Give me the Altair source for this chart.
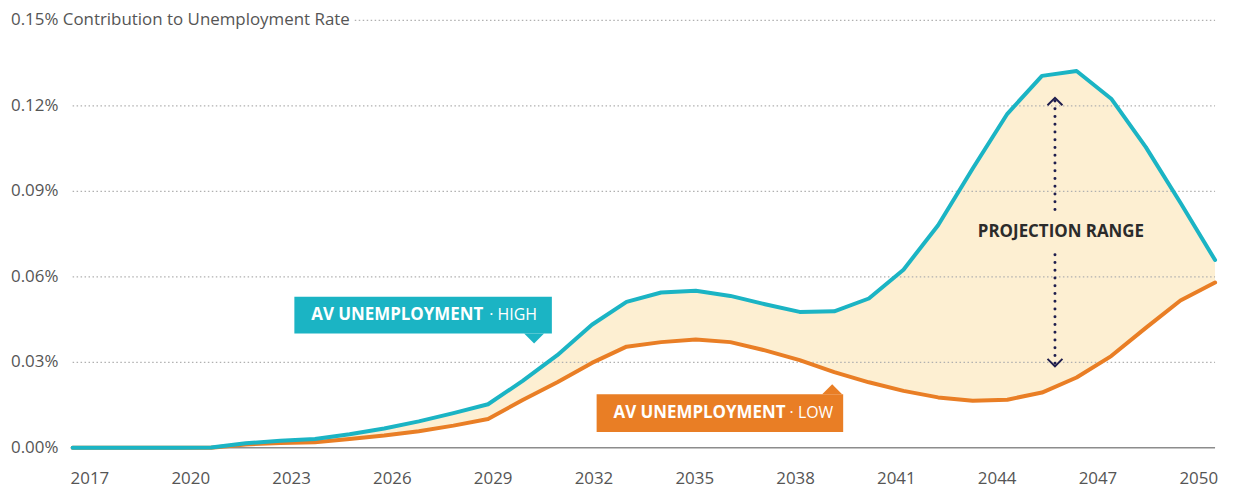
import altair as alt
import pandas as pd

# ---------------- data (values in percentage points) ----------------
years = list(range(2017, 2051))
high = [0, 0, 0, 0, 0.0001, 0.0016, 0.0025, 0.0031, 0.0048, 0.0068, 0.0093, 0.0122,
        0.0153, 0.0235, 0.0325, 0.0432, 0.0512, 0.0545, 0.0551, 0.0533, 0.0504, 0.0477,
        0.0479, 0.0524, 0.0625, 0.0781, 0.0980, 0.1172, 0.1305, 0.1322, 0.1225, 0.1055,
        0.0860, 0.0659]
low = [0, 0, 0, 0, 0, 0.0012, 0.0017, 0.0020, 0.0031, 0.0043, 0.0058, 0.0078,
       0.0101, 0.0168, 0.0230, 0.0298, 0.0355, 0.0371, 0.0380, 0.0371, 0.0342, 0.0308,
       0.0266, 0.0230, 0.0200, 0.0177, 0.0165, 0.0169, 0.0194, 0.0247, 0.0322, 0.0421,
       0.0517, 0.0580]
y_ticks = [0, 0.03, 0.06, 0.09, 0.12, 0.15]
y_labels = ["0.00%", "0.03%", "0.06%", "0.09%", "0.12%",
            "0.15% Contribution to Unemployment Rate"]
x_ticks = [2017, 2020, 2023, 2026, 2029, 2032, 2035, 2038, 2041, 2044, 2047, 2050]
grid_vals = [0.03, 0.06, 0.09, 0.12]
label_bold = ["AV UNEMPLOYMENT", "AV UNEMPLOYMENT"]
label_norm = ["· HIGH", "· LOW"]
range_label = "PROJECTION RANGE"

# ---------------- style ----------------
TEAL = "#1bb4c4"
ORANGE = "#e97e25"
FILL = "#fdefd2"
GRID = "#b0b0b0"
LABEL = "#555555"
NAVY = "#1e1d4d"
DARK = "#2b2b2b"
FONT = "Open Sans"

xs = alt.Scale(domain=[2017, 2050], nice=False, zero=False)
xs_axis = alt.Scale(domain=[2016.5, 2050.5], nice=False, zero=False)  # band-centred labels
ys = alt.Scale(domain=[0, 0.15], nice=False, zero=True)


def X(f):
    return alt.X(f, type="quantitative", scale=xs, axis=None)


def Y(f):
    return alt.Y(f, type="quantitative", scale=ys, axis=None)


df = pd.DataFrame({"year": years, "high": high, "low": low})

x_axis = alt.Axis(
    values=x_ticks, format="d", title=None, grid=False, ticks=False, domain=False,
    labelFont=FONT, labelFontSize=17, labelColor=LABEL, labelPadding=23,
    labelFlush=False, labelOverlap=False)

# ---------------- axis layer (year labels + baseline) ----------------
axis_layer = alt.Chart(pd.DataFrame({"x0": [2016.5], "x1": [2050.5], "v": [0.0]})).mark_rule(
    color="#8c8c8c", strokeWidth=1.5
).encode(
    x=alt.X("x0:Q", scale=xs_axis, axis=x_axis),
    x2="x1:Q",
    y=Y("v"),
)

# ---------------- main layers ----------------
y_lab = alt.Chart(pd.DataFrame({"v": y_ticks, "t": y_labels, "x": 2015.22})).mark_text(
    font=FONT, fontSize=17, color=LABEL, align="left", baseline="middle"
).encode(x=X("x"), y=Y("v"), text="t:N")

area = alt.Chart(df).mark_area(color=FILL, opacity=1).encode(
    x=X("year"), y=Y("low"), y2="high:Q")

grid = alt.Chart(pd.DataFrame({"v": grid_vals, "x0": 2017, "x1": 2050})).mark_rule(
    color=GRID, strokeDash=[1.5, 2.5], strokeWidth=1.3
).encode(x=X("x0"), x2="x1:Q", y=Y("v"))

top_rule = alt.Chart(pd.DataFrame({"v": [0.15], "x0": [2025.15], "x1": [2050]})).mark_rule(
    color=GRID, strokeDash=[1.5, 2.5], strokeWidth=1.3
).encode(x=X("x0"), x2="x1:Q", y=Y("v"))

line_low = alt.Chart(df).mark_line(color=ORANGE, strokeWidth=4, strokeCap="round",
                                   strokeJoin="round").encode(x=X("year"), y=Y("low"))
line_high = alt.Chart(df).mark_line(color=TEAL, strokeWidth=4, strokeCap="round",
                                    strokeJoin="round").encode(x=X("year"), y=Y("high"))

boxes = alt.Chart(pd.DataFrame({
    "x0": [2023.405, 2032.136], "x1": [2030.843, 2039.258],
    "y0": [0.04012, 0.00558], "y1": [0.05302, 0.01884], "s": ["high", "low"]
})).mark_rect(opacity=1).encode(
    x=X("x0"), x2="x1:Q", y=Y("y0"), y2="y1:Q",
    color=alt.Color("s:N", scale=alt.Scale(domain=["high", "low"], range=[TEAL, ORANGE]),
                    legend=None))

ptr_high = alt.Chart(pd.DataFrame({"x": [2030.33], "y": [0.04012]})).mark_point(
    shape="M -1 0 L 1 0 L 0 1 Z", size=400, filled=True, opacity=1, color=TEAL, strokeWidth=0
).encode(x=X("x"), y=Y("y"))
ptr_low = alt.Chart(pd.DataFrame({"x": [2038.94], "y": [0.01884]})).mark_point(
    shape="M -1 0 L 1 0 L 0 -1 Z", size=400, filled=True, opacity=1, color=ORANGE, strokeWidth=0
).encode(x=X("x"), y=Y("y"))

txt_bold = alt.Chart(pd.DataFrame({
    "x": [2023.893, 2032.624], "y": [0.04657, 0.01221], "t": label_bold
})).mark_text(font=FONT, fontSize=17, fontWeight="bold", color="white", align="left",
              baseline="middle").encode(x=X("x"), y=Y("y"), text="t:N")
txt_norm = alt.Chart(pd.DataFrame({
    "x": [2030.412, 2038.971], "y": [0.04657, 0.01221], "t": label_norm
})).mark_text(font=FONT, fontSize=16, color="white", align="right",
              baseline="middle").encode(x=X("x"), y=Y("y"), text="t:N")

dots = alt.Chart(pd.DataFrame({
    "x": [2045.376, 2045.376], "y0": [0.12174, 0.02965], "y1": [0.08267, 0.06872]
})).mark_rule(color=NAVY, strokeWidth=3, strokeCap="round", strokeDash=[0.1, 7.7]).encode(
    x=X("x"), y=Y("y0"), y2="y1:Q")
head_top = alt.Chart(pd.DataFrame({"x": [2045.376], "y": [0.12279]})).mark_point(
    shape="M -1 1 L 0 0 L 1 1", size=225, filled=False, color=NAVY, strokeWidth=2, opacity=1
).encode(x=X("x"), y=Y("y"))
head_bot = alt.Chart(pd.DataFrame({"x": [2045.376], "y": [0.0286]})).mark_point(
    shape="M -1 -1 L 0 0 L 1 -1", size=225, filled=False, color=NAVY, strokeWidth=2, opacity=1
).encode(x=X("x"), y=Y("y"))
range_txt = alt.Chart(pd.DataFrame({"x": [2045.548], "y": [0.0757], "t": [range_label]})).mark_text(
    font=FONT, fontSize=17, fontWeight="bold", color=DARK, align="center", baseline="middle"
).encode(x=X("x"), y=Y("y"), text="t:N")

main = alt.layer(y_lab, area, grid, top_rule, line_low, line_high, boxes, ptr_high, ptr_low,
                 txt_bold, txt_norm, dots, head_top, head_bot, range_txt)

chart = alt.layer(axis_layer, main).resolve_scale(x="independent").properties(
    width=1149, height=430,
    autosize=alt.AutoSizeParams(type="none"),
    padding={"left": 65, "top": 11, "right": 10, "bottom": 40},
).configure_view(stroke=None)

chart.save("out.html", embed_options={"renderer": "svg", "actions": False})
